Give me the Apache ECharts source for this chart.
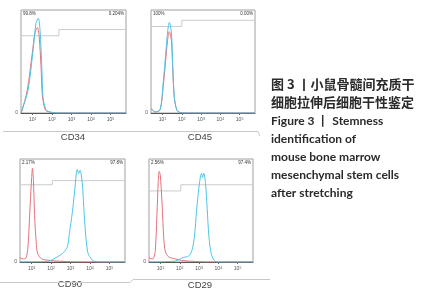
<!DOCTYPE html>
<html>
<head>
<meta charset="utf-8">
<script src="https://cdn.jsdelivr.net/npm/echarts@6/dist/echarts.min.js"></script>
<style>
  html, body { margin: 0; padding: 0; background: #fff; }
  #chart { width: 422px; height: 300px; }
</style>
</head>
<body>
<div id="chart"></div>
<script>
// 横轴为对数刻度(十进位), 纵轴为相对细胞数(%)
const decadeTicks = [1, 2, 3, 4, 5]
const panelNames = ['CD34', 'CD45', 'CD90', 'CD29']
const leftPct = ['99.8%', '100%', '2.17%', '2.56%']
const rightPct = ['0.204%', '0.00%', '97.8%', '97.4%']

// 门控线: 分割位置(十进位), 左段高度, 右段高度
const gateSplit = [2.35, 2.0, 2.06, 2.05]
const gateLeft = [75, 84, 75, 69]
const gateRight = [81, 90, 79, 75]

// 同型对照(红) 与 抗体染色(蓝)
const cd34Red = [[0.4, 0], [0.45, 2], [0.72, 22], [0.98, 58], [1.12, 78], [1.24, 83], [1.33, 75], [1.43, 45], [1.5, 17], [1.65, 3], [1.85, 1], [2.2, 0], [5.8, 0]]
const cd34Cyan = [[0.4, 0], [0.45, 3], [0.76, 22], [1.02, 61], [1.17, 87], [1.29, 92], [1.38, 80], [1.47, 45], [1.53, 16], [1.69, 3], [1.89, 1], [2.3, 0], [5.8, 0]]

const cd45Red = [[0.4, 4], [0.5, 3], [0.6, 1], [0.87, 3], [1.03, 25], [1.18, 55], [1.27, 72], [1.35, 79], [1.46, 70], [1.53, 42], [1.61, 15], [1.74, 3], [1.91, 0.5], [2.2, 0], [5.8, 0]]
const cd45Cyan = [[0.4, 4], [0.5, 3], [0.6, 1], [0.87, 3], [1.03, 29], [1.18, 61], [1.27, 80], [1.35, 88], [1.46, 78], [1.53, 45], [1.61, 16], [1.74, 3], [1.91, 0.5], [2.2, 0], [5.8, 0]]

const cd90Red = [[0.4, 4], [0.55, 3], [0.71, 4], [0.81, 15], [0.92, 55], [1.0, 82], [1.04, 91], [1.09, 80], [1.15, 45], [1.23, 20], [1.31, 8], [1.52, 3], [1.95, 1.5], [2.27, 1], [2.73, 0.5], [3.25, 0], [5.8, 0]]
const cd90Cyan = [[0.4, 0], [1.8, 0.5], [2.32, 5], [2.63, 9], [2.84, 15], [2.94, 28], [3.09, 48], [3.2, 67], [3.3, 86], [3.35, 90], [3.42, 86], [3.49, 89], [3.6, 77], [3.68, 53], [3.77, 28], [3.89, 9], [4.03, 4], [4.18, 1], [4.55, 0], [5.8, 0]]

const cd29Red = [[0.4, 4], [0.6, 3], [0.72, 10], [0.81, 45], [0.88, 78], [0.93, 88], [0.98, 85], [1.07, 60], [1.16, 25], [1.25, 10], [1.42, 5], [1.77, 3], [2.1, 1.5], [2.82, 0.5], [3.3, 0], [5.8, 0]]
const cd29Cyan = [[0.4, 0], [1.77, 1], [2.12, 4], [2.47, 6], [2.64, 12], [2.76, 25], [2.87, 50], [2.99, 72], [3.08, 84], [3.13, 86], [3.18, 82], [3.25, 86], [3.34, 75], [3.42, 52], [3.51, 25], [3.63, 8], [3.77, 2], [3.95, 0], [5.8, 0]]

const redSeries = [cd34Red, cd45Red, cd90Red, cd29Red]
const cyanSeries = [cd34Cyan, cd45Cyan, cd90Cyan, cd29Cyan]

const X_MIN = 0.4
const X_MAX = 5.8

// 四个面板的位置
const boxes = [
  { left: 21, top: 10, width: 105, height: 103 },
  { left: 151, top: 10, width: 104, height: 103 },
  { left: 20, top: 159, width: 105, height: 103 },
  { left: 149, top: 159, width: 104, height: 103 }
]

const chart = echarts.init(document.getElementById('chart'), null, { renderer: 'canvas' })

const grid = boxes.map(b => ({
  left: b.left, top: b.top, width: b.width, height: b.height,
  show: true, borderColor: '#a0a0a0', borderWidth: 1, containLabel: false
}))

const xAxis = boxes.map((b, i) => ({
  type: 'value', gridIndex: i, min: X_MIN, max: X_MAX,
  axisLine: { show: true, lineStyle: { color: '#555', width: 1 } },
  axisTick: { show: true, customValues: decadeTicks, length: 2, lineStyle: { color: '#666' } },
  splitLine: { show: false },
  axisLabel: {
    customValues: decadeTicks, margin: 4,
    formatter: v => '{a|10}{b|' + v + '}',
    rich: {
      a: { fontSize: 5, color: '#555', fontFamily: 'Liberation Sans' },
      b: { fontSize: 3.5, color: '#555', verticalAlign: 'top', fontFamily: 'Liberation Sans' }
    }
  }
}))

const yAxis = boxes.map((b, i) => ({
  type: 'value', gridIndex: i, min: 0, max: 100,
  axisLine: { show: false }, axisTick: { show: false }, splitLine: { show: false },
  axisLabel: { customValues: [0], margin: 3, fontSize: 5, color: '#555', fontFamily: 'Liberation Sans' }
}))

const series = []
boxes.forEach((b, i) => {
  series.push({
    type: 'line', xAxisIndex: i, yAxisIndex: i, symbol: 'none', silent: true,
    data: [[X_MIN, gateLeft[i]], [gateSplit[i], gateLeft[i]], [gateSplit[i], gateRight[i]], [X_MAX, gateRight[i]]],
    lineStyle: { color: '#cbcbcb', width: 1 }
  })
  series.push({
    type: 'line', xAxisIndex: i, yAxisIndex: i, symbol: 'none', smooth: 0.3,
    data: redSeries[i], lineStyle: { color: '#e4727b', width: 1 }
  })
  series.push({
    type: 'line', xAxisIndex: i, yAxisIndex: i, symbol: 'none', smooth: 0.3,
    data: cyanSeries[i], lineStyle: { color: '#4cc5e6', width: 1 }
  })
})

const graphic = []
boxes.forEach((b, i) => {
  graphic.push({ type: 'text', style: { text: leftPct[i], x: b.left + 2, y: b.top + 4, font: '4.5px "Liberation Sans"', fill: '#333', textVerticalAlign: 'middle' } })
  graphic.push({ type: 'text', style: { text: rightPct[i], x: b.left + b.width - 2, y: b.top + 4, font: '4.5px "Liberation Sans"', fill: '#333', textAlign: 'right', textVerticalAlign: 'middle' } })
})
// 面板名称
const nameSpots = [[73, 137], [200, 137], [70, 284], [200, 285]]
panelNames.forEach((n, i) => {
  graphic.push({ type: 'text', style: { text: n, x: nameSpots[i][0], y: nameSpots[i][1], font: '9.5px "Liberation Sans"', fill: '#444', textAlign: 'center', textVerticalAlign: 'middle' } })
})
// 分隔线
const rule = { stroke: '#c8c8c8', lineWidth: 1 }
graphic.push({ type: 'polyline', shape: { points: [[3, 131.5], [258, 131.5], [260, 136]] }, style: rule })
graphic.push({ type: 'polyline', shape: { points: [[0, 282.5], [130, 282.5], [133, 279.5], [270, 279.5]] }, style: rule })

// 图注
const captionCn = ['图 3 丨小鼠骨髓间充质干', '细胞拉伸后细胞干性鉴定']
const captionEn = ['Figure 3 丨 Stemness', 'identification of', 'mouse bone marrow', 'mesenchymal stem cells', 'after stretching']
captionCn.forEach((t, k) => {
  graphic.push({ type: 'text', style: { text: t, x: 271, y: 84 + k * 18, font: 'bold 13px "Noto Sans CJK SC"', fill: '#2a2a2a', textVerticalAlign: 'middle' } })
})
captionEn.forEach((t, k) => {
  graphic.push({ type: 'text', style: { text: t, x: 271, y: 121 + k * 18, font: 'bold 12px Lato', fill: '#2a2a2a', textVerticalAlign: 'middle' } })
})

chart.setOption({
  animation: false,
  backgroundColor: '#fff',
  grid, xAxis, yAxis, series, graphic
})
</script>
</body>
</html>
